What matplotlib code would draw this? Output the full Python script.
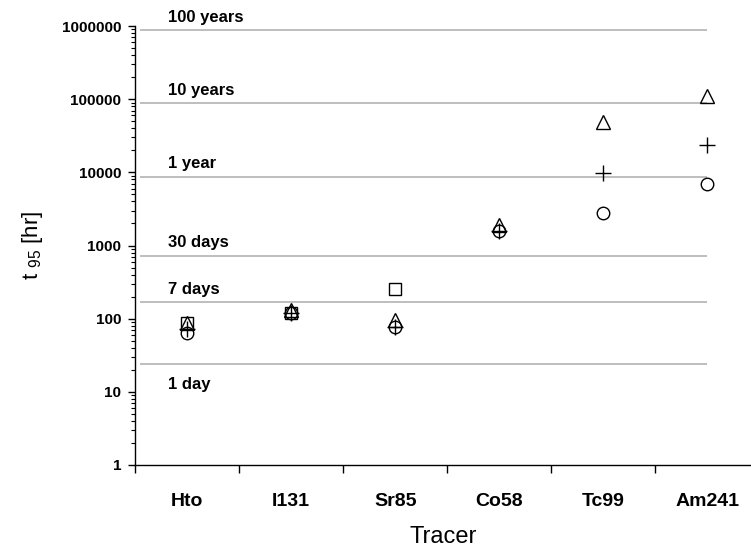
import numpy as np
import matplotlib
matplotlib.use('Agg')
import matplotlib.pyplot as plt
from matplotlib.ticker import LogLocator, NullFormatter, FixedLocator, FixedFormatter

plt.rcParams['font.family'] = ['Liberation Sans', 'DejaVu Sans']
plt.rcParams['mathtext.fontset'] = 'custom'
plt.rcParams['mathtext.rm'] = 'Liberation Sans'
plt.rcParams['mathtext.it'] = 'Liberation Sans'

# tracers and t95 estimates (hours), one array per marker series
tracers = ['Hto', 'I131', 'Sr85', 'Co58', 'Tc99', 'Am241']
t95_triangle = [88, 130, 95, 1900, 48000, 112000]
t95_plus = [72, 118, 78, 1600, 9700, 24000]
t95_circle = [64, 118, 78, 1600, 2800, 7000]
t95_square = [86, 120, 252, np.nan, np.nan, np.nan]

# reference durations in hours
ref_labels = ['1 day', '7 days', '30 days', '1 year', '10 years', '100 years']
ref_hours = [24, 168, 720, 8760, 87600, 876000]

x_pos = np.arange(1, len(tracers) + 1)

fig = plt.figure(figsize=(7.51, 5.6), dpi=100)
ax = fig.add_axes([135 / 751, 1 - 465 / 560, (751 - 135) / 751, (465 - 26) / 560])

ax.set_yscale('log')
ax.set_ylim(1, 1e6)
ax.set_xlim(0.5, 6.42)   # last category boundary falls just past the edge

# reference duration lines with their labels
ax.hlines(ref_hours, 0.55, 6.0, color='#b3b3b3', linewidth=1.2, zorder=1)
for lab, h in zip(ref_labels, ref_hours):
    if lab == '1 day':
        ax.annotate(lab, (0.82, h), xytext=(0, -9), textcoords='offset points',
                    ha='left', va='top', fontsize=12, fontweight='bold')
    else:
        ax.annotate(lab, (0.82, h), xytext=(0, 4), textcoords='offset points',
                    ha='left', va='bottom', fontsize=12, fontweight='bold')

mk = dict(linestyle='none', color='black', markerfacecolor='none',
          markeredgewidth=1.0, zorder=3)
ax.plot(x_pos, t95_square, marker='s', markersize=9, **mk)
ax.plot(x_pos, t95_triangle, marker='^', markersize=10, **mk)
ax.plot(x_pos, t95_circle, marker='o', markersize=9, **mk)
ax.plot(x_pos, t95_plus, marker='+', markersize=11, **mk)

# y axis: decade labels, minor ticks outward
ax.yaxis.set_minor_locator(LogLocator(base=10, subs=np.arange(2, 10), numticks=20))
ax.yaxis.set_minor_formatter(NullFormatter())
ax.set_yticks([1, 10, 100, 1000, 10000, 100000, 1000000])
ax.set_yticklabels(['1', '10', '100', '1000', '10000', '100000', '1000000'],
                   fontweight='bold', fontsize=11)
ax.tick_params(axis='y', which='major', direction='out', length=5, width=1, pad=5)
ax.tick_params(axis='y', which='minor', direction='out', length=3, width=0.8)

# x axis: ticks on category boundaries, names centred on the categories
ax.xaxis.set_major_locator(FixedLocator(np.arange(0.5, 7, 1)))
ax.xaxis.set_major_formatter(NullFormatter())
ax.xaxis.set_minor_locator(FixedLocator(x_pos))
ax.xaxis.set_minor_formatter(FixedFormatter(tracers))
ax.tick_params(axis='x', which='major', direction='out', length=6, width=1)
ax.tick_params(axis='x', which='minor', length=0, pad=20, labelsize=14)
for t in ax.xaxis.get_minorticklabels():
    t.set_fontweight('bold')

for s in ['top', 'right']:
    ax.spines[s].set_visible(False)
for s in ['left', 'bottom']:
    ax.spines[s].set_linewidth(1.0)

ax.set_xlabel('Tracer', fontsize=17, labelpad=12)
ax.set_ylabel(r't $_{\rm 95}$ [hr]', fontsize=16, labelpad=12)

fig.savefig('out.png', dpi=100)
